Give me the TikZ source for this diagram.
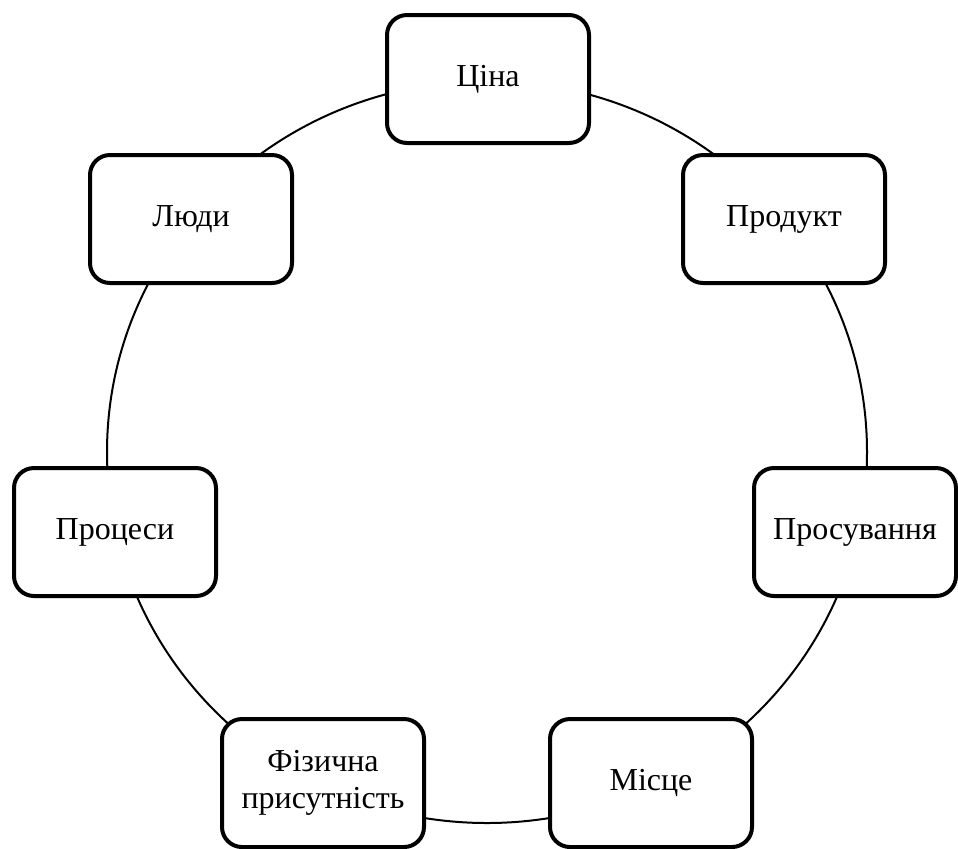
\documentclass[tikz,border=0pt]{standalone}
\usepackage{fontspec}
\setmainfont{Liberation Serif}
\begin{document}
\begin{tikzpicture}[x=0.5pt,y=-0.5pt,
  box/.style={draw=black, line width=2pt, rounded corners=10pt, fill=white,
    minimum width=101pt, minimum height=64pt, inner sep=0pt, align=center,
    font=\fontsize{16}{18.5}\selectfont},
  ring/.style={draw=black, line width=1pt}]
\useasboundingbox (0,0) rectangle (958,848);
\coordinate (c) at (487,452);
\draw[ring] (c) ellipse [x radius=190pt, y radius=185.5pt];
\node[box] (cina) at (488,79) {Ціна};
\node[box] (produkt) at (784,219) {Продукт};
\node[box] (prosuv) at (855,532) {Просування};
\node[box] (misce) at (651,783) {Місце};
\node[box] (fiz) at (323,783) {Фізична\\присутність};
\node[box] (proc) at (115,532) {Процеси};
\node[box] (lyudy) at (191,219) {Люди};
\end{tikzpicture}
\end{document}
